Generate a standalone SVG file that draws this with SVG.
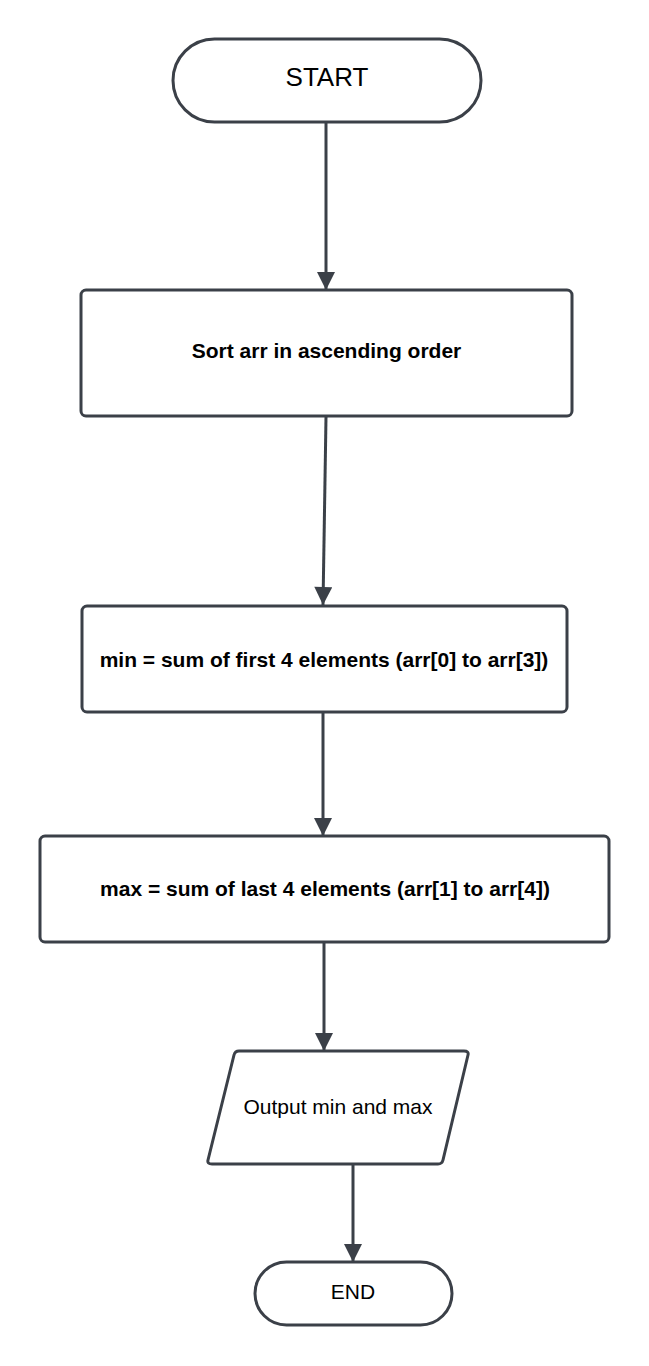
<svg xmlns="http://www.w3.org/2000/svg" width="649" height="1366" viewBox="0 0 649 1366">
<style>
.s{fill:#fff;stroke:#3b4048;stroke-width:3}
.t{font-family:"Liberation Sans",Arial,sans-serif;fill:#000;text-anchor:middle;dominant-baseline:central}
.b{font-weight:bold;font-size:21px}
.c{stroke:#3b4048;stroke-width:3;fill:none;marker-end:url(#ah)}
</style>
<defs>
<marker id="ah" markerUnits="userSpaceOnUse" markerWidth="20" markerHeight="18" refX="20" refY="10" orient="auto" viewBox="0 0 20 20">
<path d="M0,0 L20,10 L0,20 Z" fill="#3b4048"/>
</marker>
</defs>
<rect width="649" height="1366" fill="#fff"/>
<g id="connectors">
<line class="c" x1="326" y1="122" x2="326" y2="290"/>
<line class="c" x1="326" y1="417" x2="323" y2="605"/>
<line class="c" x1="323" y1="712" x2="323" y2="836"/>
<line class="c" x1="324" y1="942" x2="324" y2="1051"/>
<line class="c" x1="353" y1="1164" x2="353" y2="1262"/>
</g>
<g id="start">
<rect class="s" x="173" y="39" width="308" height="83" rx="41.5"/>
<text class="t" x="327" y="77" font-size="26">START</text>
</g>
<g id="sort">
<rect class="s" x="81" y="290" width="491" height="126" rx="5"/>
<text class="t b" x="326.5" y="350">Sort arr in ascending order</text>
</g>
<g id="min">
<rect class="s" x="82" y="606" width="485" height="106" rx="5"/>
<text class="t b" x="324" y="659">min = sum of first 4 elements (arr[0] to arr[3])</text>
</g>
<g id="max">
<rect class="s" x="40" y="836" width="569" height="106" rx="5"/>
<text class="t b" x="325" y="888">max = sum of last 4 elements (arr[1] to arr[4])</text>
</g>
<g id="output">
<path class="s" d="M239,1051 L464,1051 Q469,1051 468,1055 L443,1160 Q442,1164 438,1164 L212,1164 Q207,1164 208,1160 L234,1055 Q235,1051 239,1051 Z"/>
<text class="t" x="338" y="1106" font-size="21">Output min and max</text>
</g>
<g id="end">
<rect class="s" x="255" y="1262" width="197" height="63" rx="31.5"/>
<text class="t" x="353" y="1291" font-size="21">END</text>
</g>
</svg>
